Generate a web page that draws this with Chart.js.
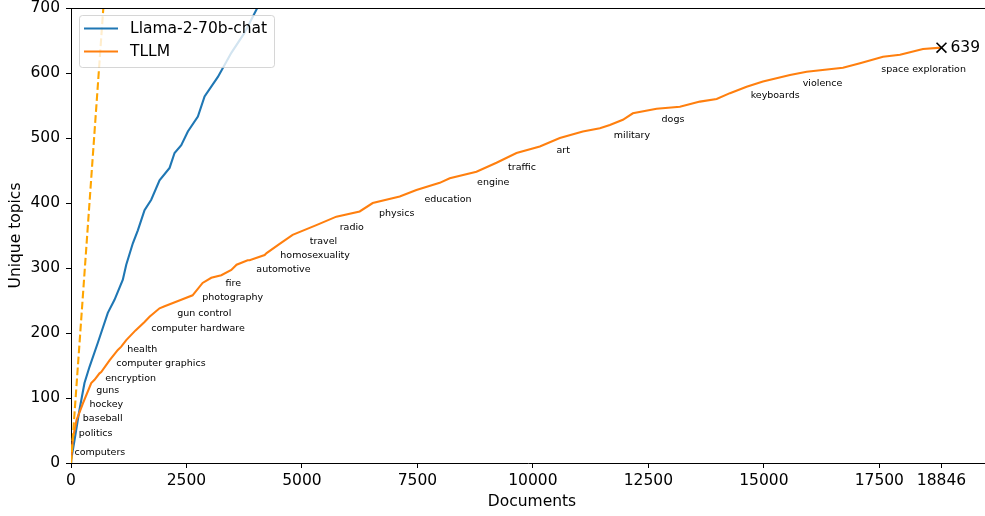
<!DOCTYPE html>
<html>
<head>
<meta charset="utf-8">
<script src="https://cdn.jsdelivr.net/npm/chart.js@4.4.1/dist/chart.umd.min.js"></script>
<style>
  html, body { margin: 0; padding: 0; background: #fff; }
  canvas { display: block; }
</style>
</head>
<body>
<canvas id="c" width="985" height="516"></canvas>
<script>
// Cumulative number of unique topics discovered as documents are processed.
const docsTLLM = [0, 39, 120, 260, 438, 509, 617, 654, 834, 1014, 1088, 1196, 1397, 1592, 1700, 1917, 2026, 2387, 2632, 2849, 3037, 3254, 3471, 3585, 3824, 3867, 4192, 4235, 4517, 4798, 5312, 5745, 6250, 6532, 7117, 7478, 7983, 8200, 8778, 9212, 9645, 10150, 10583, 11081, 11450, 11666, 11948, 12164, 12678, 13183, 13616, 13978, 14266, 14627, 14981, 15566, 15927, 16713, 17082, 17580, 17948, 18446, 18846];
const topicsTLLM = [1, 37, 66, 92, 123, 128, 138, 140, 158, 174, 179, 189, 204, 217, 225, 238, 241, 251, 258, 277, 285, 289, 297, 305, 312, 312, 320, 323, 337, 351, 366, 379, 387, 400, 410, 420, 431, 438, 448, 462, 477, 487, 500, 510, 515, 520, 528, 538, 545, 548, 556, 560, 569, 579, 587, 597, 602, 608, 615, 625, 628, 637, 639];

const docsLlama = [0, 4, 76, 184, 292, 401, 581, 797, 942, 1122, 1196, 1339, 1447, 1592, 1737, 1917, 2134, 2242, 2387, 2530, 2747, 2892, 3180, 3471, 3759, 4047, 4200];
const topicsLlama = [0, 5, 35, 82, 123, 148, 185, 231, 251, 282, 305, 338, 358, 389, 405, 435, 454, 477, 489, 510, 533, 564, 594, 631, 662, 702, 725];

// Upper bound: every document introduces a new topic.
const boundDocs = [0, 18846];

// Topic names written along the TLLM curve.
const topicLabels = ["computers", "politics", "baseball", "hockey", "guns", "encryption", "computer graphics", "health", "computer hardware", "gun control", "photography", "fire", "automotive", "homosexuality", "travel", "radio", "physics", "education", "engine", "traffic", "art", "military", "dogs", "keyboards", "violence", "space exploration"];
const labelDocs = [76, 169, 256, 401, 546, 741, 979, 1218, 1737, 2301, 2842, 3347, 4012, 4532, 5167, 5817, 6668, 7652, 8791, 9463, 10511, 11753, 12786, 14714, 15841, 17543];
const labelTopics = [15.8, 44.6, 68.8, 90.3, 110.8, 130.3, 152.8, 173.8, 206.2, 230.3, 254.3, 276.5, 298, 318.9, 340.5, 362.6, 383.1, 404.6, 431.2, 454.3, 480, 504.2, 528.8, 564.6, 584.2, 605.1];

const xTicks = [0, 2500, 5000, 7500, 10000, 12500, 15000, 17500, 18846];
const yTicks = [0, 100, 200, 300, 400, 500, 600, 700];
const seriesNames = ["Llama-2-70b-chat", "TLLM"];

const FONT = "'DejaVu Sans', sans-serif";
const BIG = 15.5;
const BLUE = '#1f77b4', ORANGE = '#ff7f0e', GOLD = '#ffa500';

const pairs = (xs, ys) => xs.map((x, i) => ({ x: x, y: ys[i] }));
const lastIdx = docsTLLM.length - 1;

const decorations = {
  id: 'decorations',
  afterDatasetsDraw(chart) {
    const ctx = chart.ctx;
    const a = chart.chartArea;
    const xs = chart.scales.x, ys = chart.scales.y;
    ctx.save();
    // top spine
    ctx.strokeStyle = '#000';
    ctx.lineWidth = 1;
    ctx.beginPath();
    ctx.moveTo(a.left, a.top + 0.5);
    ctx.lineTo(a.right, a.top + 0.5);
    ctx.stroke();

    // topic names
    ctx.fillStyle = '#000';
    ctx.font = '9.5px ' + FONT;
    ctx.textAlign = 'left';
    ctx.textBaseline = 'middle';
    topicLabels.forEach((t, i) => {
      ctx.fillText(t, xs.getPixelForValue(labelDocs[i]), ys.getPixelForValue(labelTopics[i]));
    });

    // final count next to the end marker
    ctx.font = BIG + 'px ' + FONT;
    ctx.fillText(String(topicsTLLM[lastIdx]),
      xs.getPixelForValue(docsTLLM[lastIdx]) + 9,
      ys.getPixelForValue(topicsTLLM[lastIdx]));

    // legend
    const bx = 79.5, by = 15.5, bw = 195, bh = 52, r = 3;
    ctx.beginPath();
    ctx.moveTo(bx + r, by);
    ctx.arcTo(bx + bw, by, bx + bw, by + bh, r);
    ctx.arcTo(bx + bw, by + bh, bx, by + bh, r);
    ctx.arcTo(bx, by + bh, bx, by, r);
    ctx.arcTo(bx, by, bx + bw, by, r);
    ctx.closePath();
    ctx.fillStyle = 'rgba(255,255,255,0.8)';
    ctx.fill();
    ctx.strokeStyle = 'rgba(204,204,204,0.8)';
    ctx.lineWidth = 1;
    ctx.stroke();
    const rows = [[seriesNames[0], BLUE, 28.5], [seriesNames[1], ORANGE, 51.5]];
    rows.forEach(([name, col, yy]) => {
      ctx.strokeStyle = col;
      ctx.lineWidth = 2.1;
      ctx.beginPath();
      ctx.moveTo(84, yy);
      ctx.lineTo(118, yy);
      ctx.stroke();
      ctx.fillStyle = '#000';
      ctx.font = BIG + 'px ' + FONT;
      ctx.textBaseline = 'middle';
      ctx.fillText(name, 130, yy);
    });

    // axis titles
    ctx.fillStyle = '#000';
    ctx.font = BIG + 'px ' + FONT;
    ctx.textAlign = 'center';
    ctx.textBaseline = 'middle';
    ctx.fillText('Documents', 532, 502);
    ctx.translate(16, (a.top + a.bottom) / 2);
    ctx.rotate(-Math.PI / 2);
    ctx.fillText('Unique topics', 0, 0);
    ctx.restore();
  }
};

function noPad(s) {
  s.paddingTop = 0; s.paddingBottom = 0; s.paddingLeft = 0; s.paddingRight = 0;
}

new Chart(document.getElementById('c'), {
  type: 'line',
  data: {
    datasets: [
      {
        type: 'scatter',
        data: [{ x: docsTLLM[lastIdx], y: topicsTLLM[lastIdx] }],
        pointStyle: 'crossRot',
        pointRadius: 7,
        borderColor: '#000',
        backgroundColor: '#000',
        pointBorderWidth: 1.6,
        clip: false
      },
      {
        data: boundDocs.map(v => ({ x: v, y: v })),
        borderColor: GOLD,
        borderWidth: 2.1,
        borderDash: [7.7, 3.3],
        pointRadius: 0,
        fill: false
      },
      {
        data: pairs(docsTLLM, topicsTLLM),
        borderColor: ORANGE,
        borderWidth: 2.1,
        pointRadius: 0,
        tension: 0,
        fill: false
      },
      {
        data: pairs(docsLlama, topicsLlama),
        borderColor: BLUE,
        borderWidth: 2.1,
        pointRadius: 0,
        tension: 0,
        fill: false
      }
    ]
  },
  options: {
    responsive: false,
    animation: false,
    devicePixelRatio: 1,
    events: [],
    layout: { autoPadding: false, padding: { top: 8, left: 0, right: 0, bottom: 0 } },
    plugins: {
      legend: { display: false },
      tooltip: { enabled: false }
    },
    scales: {
      x: {
        type: 'linear',
        min: 0,
        max: 19788,
        afterBuildTicks(s) { s.ticks = xTicks.map(v => ({ value: v })); },
        afterFit(s) { s.height = 53; noPad(s); },
        ticks: {
          color: '#000',
          font: { family: FONT, size: BIG },
          padding: 4,
          maxRotation: 0,
          autoSkip: false,
          callback: v => String(v)
        },
        grid: { drawOnChartArea: false, drawTicks: true, tickLength: 5, tickColor: '#000', tickWidth: 1 },
        border: { display: true, color: '#000', width: 1 }
      },
      y: {
        type: 'linear',
        min: 0,
        max: 700,
        afterBuildTicks(s) { s.ticks = yTicks.map(v => ({ value: v })); },
        afterFit(s) { s.width = 71; noPad(s); },
        ticks: {
          color: '#000',
          font: { family: FONT, size: BIG },
          padding: 6,
          callback: v => String(v)
        },
        grid: { drawOnChartArea: false, drawTicks: true, tickLength: 5, tickColor: '#000', tickWidth: 1 },
        border: { display: true, color: '#000', width: 1 }
      }
    }
  },
  plugins: [decorations]
});
</script>
</body>
</html>
